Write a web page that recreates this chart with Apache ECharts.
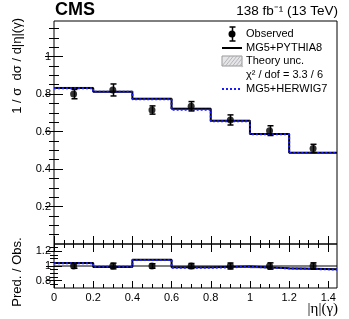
<!DOCTYPE html>
<html><head><meta charset="utf-8">
<script src="https://cdn.jsdelivr.net/npm/echarts@6/dist/echarts.min.js"></script>
<style>html,body{margin:0;padding:0;background:#fff}#c{width:349px;height:319px}</style>
</head><body><div id="c"></div>
<script>
// ---- data ----
const binEdges   = [0, 0.2, 0.4, 0.6, 0.8, 1.0, 1.2, 1.4442];
const observed   = [0.800, 0.822, 0.715, 0.735, 0.662, 0.605, 0.510];
const observedErr= [0.025, 0.032, 0.022, 0.025, 0.027, 0.026, 0.022];
const pythia8    = [0.833, 0.812, 0.775, 0.722, 0.658, 0.587, 0.487];
const herwig7    = [0.831, 0.813, 0.773, 0.717, 0.655, 0.585, 0.485];
const theoryUnc  = [0.006, 0.006, 0.006, 0.006, 0.005, 0.005, 0.005];
const xTicks     = [0, 0.2, 0.4, 0.6, 0.8, 1, 1.2, 1.4];
const yTicks     = [0.2, 0.4, 0.6, 0.8, 1];
const ratioTicks = [0.8, 1, 1.2];
const legendTexts = ['Observed', 'MG5+PYTHIA8', 'Theory unc.', 'χ² / dof = 3.3 / 6', 'MG5+HERWIG7'];

// ---- derived ----
const centers = observed.map((_, i) => (binEdges[i] + binEdges[i + 1]) / 2);
function stepData(vals) {
  const d = [];
  vals.forEach((v, i) => { d.push([binEdges[i], v]); d.push([binEdges[i + 1], v]); });
  return d;
}
const pythRatio = pythia8.map((v, i) => v / observed[i]);
const herwRatio = herwig7.map((v, i) => v / observed[i]);
const uncRatio = theoryUnc.map((v, i) => v / observed[i]);
const obsRatio = observed.map(() => 1);
const obsRatioErr = observedErr.map((e, i) => e / observed[i]);

function minorVals(lo, hi, step, majors) {
  const out = [];
  for (let k = Math.round(lo / step); k * step <= hi + 1e-9; k++) {
    const v = +(k * step).toFixed(4);
    if (v < lo - 1e-9) continue;
    if (!majors.some(m => Math.abs(m - v) < 1e-6)) out.push(v);
  }
  return out;
}
const XMIN = 0, XMAX = 1.4442, YMAX = 1.19, RMIN = 0.7, RMAX = 1.3;
const FONT = 'Liberation Sans';

function xAx(grid, pos, vals, len, showLabel) {
  return {
    type: 'value', gridIndex: grid, position: pos, min: XMIN, max: XMAX,
    axisLine: { show: false }, splitLine: { show: false },
    axisTick: { show: true, inside: true, length: len, customValues: vals, lineStyle: { color: '#000', width: 1 } },
    axisLabel: { show: showLabel, customValues: vals, color: '#000', fontFamily: FONT, fontSize: 11, margin: 4,
                 formatter: v => String(+v.toFixed(2)) }
  };
}
function yAx(grid, pos, min, max, vals, len, showLabel) {
  return {
    type: 'value', gridIndex: grid, position: pos, min: min, max: max,
    axisLine: { show: false }, splitLine: { show: false },
    axisTick: { show: true, inside: true, length: len, customValues: vals, lineStyle: { color: '#000', width: 1 } },
    axisLabel: { show: showLabel, customValues: vals, color: '#000', fontFamily: FONT, fontSize: 11, margin: 3,
                 formatter: v => String(+v.toFixed(2)) }
  };
}
const xMinor = minorVals(0, 1.44, 0.05, xTicks);
const yMinor = minorVals(0.05, 1.15, 0.05, yTicks);
const rMinor = minorVals(0.75, 1.25, 0.05, ratioTicks);

const xAxes = [
  xAx(0, 'bottom', xTicks, 8, false), xAx(0, 'bottom', xMinor, 4, false),
  xAx(0, 'top', xTicks, 8, false), xAx(0, 'top', xMinor, 4, false),
  xAx(1, 'bottom', xTicks, 7, true), xAx(1, 'bottom', xMinor, 4, false),
  xAx(1, 'top', xTicks, 7, false), xAx(1, 'top', xMinor, 4, false)
];
const yAxes = [
  yAx(0, 'left', 0, YMAX, yTicks, 9, true), yAx(0, 'left', 0, YMAX, yMinor, 5, false),
  yAx(0, 'right', 0, YMAX, yTicks, 9, false), yAx(0, 'right', 0, YMAX, yMinor, 5, false),
  yAx(1, 'left', RMIN, RMAX, ratioTicks, 8, true), yAx(1, 'left', RMIN, RMAX, rMinor, 4, false),
  yAx(1, 'right', RMIN, RMAX, ratioTicks, 8, false), yAx(1, 'right', RMIN, RMAX, rMinor, 4, false)
];

function bandSeries(xi, yi, vals, unc) {
  return {
    type: 'custom', xAxisIndex: xi, yAxisIndex: yi, z: 2,
    data: vals.map((v, i) => [binEdges[i], binEdges[i + 1], v - unc[i], v + unc[i]]),
    renderItem: (params, api) => {
      const p1 = api.coord([api.value(0), api.value(3)]);
      const p2 = api.coord([api.value(1), api.value(2)]);
      return { type: 'rect', shape: { x: p1[0], y: p1[1], width: p2[0] - p1[0], height: Math.max(1, p2[1] - p1[1]) },
               style: { fill: 'rgba(160,160,170,0.45)' } };
    }
  };
}
function errSeries(xi, yi, xs, vals, errs) {
  return {
    type: 'custom', xAxisIndex: xi, yAxisIndex: yi, z: 6,
    data: vals.map((v, i) => [xs[i], v - errs[i], v + errs[i]]),
    renderItem: (params, api) => {
      const lo = api.coord([api.value(0), api.value(1)]);
      const hi = api.coord([api.value(0), api.value(2)]);
      const x = Math.round(lo[0]) + 0.5;
      return { type: 'group', children: [
        { type: 'line', shape: { x1: x, y1: lo[1], x2: x, y2: hi[1] }, style: { stroke: '#000', lineWidth: 1.5 } },
        { type: 'line', shape: { x1: x - 3, y1: lo[1], x2: x + 3, y2: lo[1] }, style: { stroke: '#000', lineWidth: 1.5 } },
        { type: 'line', shape: { x1: x - 3, y1: hi[1], x2: x + 3, y2: hi[1] }, style: { stroke: '#000', lineWidth: 1.5 } }
      ] };
    }
  };
}
function stepSeries(xi, yi, vals, color, type, z) {
  return { type: 'line', xAxisIndex: xi, yAxisIndex: yi, data: stepData(vals), symbol: 'none', z: z,
           lineStyle: { color: color, width: 2, type: type }, animation: false };
}
function pointSeries(xi, yi, xs, vals) {
  return { type: 'scatter', xAxisIndex: xi, yAxisIndex: yi, z: 7, symbol: 'circle', symbolSize: 7,
           itemStyle: { color: '#000' }, data: vals.map((v, i) => [xs[i], v]) };
}

const series = [
  bandSeries(0, 0, pythia8, theoryUnc),
  stepSeries(0, 0, pythia8, '#000', 'solid', 3),
  stepSeries(0, 0, herwig7, '#1a1aff', [2, 2], 4),
  errSeries(0, 0, centers, observed, observedErr),
  pointSeries(0, 0, centers, observed),
  { type: 'line', xAxisIndex: 4, yAxisIndex: 4, data: [[XMIN, 1], [XMAX, 1]], symbol: 'none', z: 1,
    lineStyle: { color: '#000', width: 1 } },
  bandSeries(4, 4, pythRatio, uncRatio),
  stepSeries(4, 4, pythRatio, '#000', 'solid', 3),
  stepSeries(4, 4, herwRatio, '#1a1aff', [2, 2], 4),
  errSeries(4, 4, centers, obsRatio, obsRatioErr),
  pointSeries(4, 4, centers, obsRatio)
];

// legend drawn as graphics
const LX = 222, LX2 = 242, TX = 246;
const ly = [34, 48, 61, 75, 89];
const txt = (x, y, s, extra) => Object.assign({ type: 'text', x: x, y: y, z: 20,
  style: { text: s, fill: '#000', font: '11px ' + FONT, textAlign: 'left', textVerticalAlign: 'middle' } }, extra || {});
const graphic = [
  { type: 'text', x: 55, y: 10, style: { text: 'CMS', fill: '#000', font: 'bold 18px ' + FONT, textAlign: 'left', textVerticalAlign: 'middle' } },
  { type: 'text', x: 338, y: 11, style: { text: '138 fb⁻¹ (13 TeV)', fill: '#000', font: '13.5px ' + FONT, textAlign: 'right', textVerticalAlign: 'middle' } },
  { type: 'text', x: 338, y: 309, style: { text: '|η|(γ)', fill: '#000', font: '15px Liberation Serif', textAlign: 'right', textVerticalAlign: 'middle' } },
  { type: 'text', x: 17, y: 18, rotation: Math.PI / 2, style: { text: '1 / σ  dσ / d|η|(γ)', fill: '#000', font: '13px ' + FONT, textAlign: 'right', textVerticalAlign: 'middle' } },
  { type: 'text', x: 17, y: 272, rotation: Math.PI / 2, style: { text: 'Pred. / Obs.', fill: '#000', font: '13px ' + FONT, textAlign: 'center', textVerticalAlign: 'middle' } },
  // legend: observed
  { type: 'circle', shape: { cx: 232, cy: ly[0], r: 3.5 }, style: { fill: '#000' }, z: 20 },
  { type: 'line', shape: { x1: 232.5, y1: ly[0] - 7, x2: 232.5, y2: ly[0] + 7 }, style: { stroke: '#000', lineWidth: 1.5 }, z: 20 },
  { type: 'line', shape: { x1: 229.5, y1: ly[0] - 7, x2: 235.5, y2: ly[0] - 7 }, style: { stroke: '#000', lineWidth: 1.5 }, z: 20 },
  { type: 'line', shape: { x1: 229.5, y1: ly[0] + 7, x2: 235.5, y2: ly[0] + 7 }, style: { stroke: '#000', lineWidth: 1.5 }, z: 20 },
  txt(TX, ly[0], legendTexts[0]),
  { type: 'line', shape: { x1: LX, y1: ly[1], x2: LX2, y2: ly[1] }, style: { stroke: '#000', lineWidth: 2 }, z: 20 },
  txt(TX, ly[1], legendTexts[1]),
  { type: 'rect', shape: { x: LX, y: ly[2] - 5, width: LX2 - LX, height: 10 }, style: { fill: '#e6e6ea', stroke: '#999', lineWidth: 1 }, z: 20 },
  txt(TX, ly[2], legendTexts[2]),
  txt(TX, ly[3], legendTexts[3]),
  { type: 'line', shape: { x1: LX, y1: ly[4], x2: LX2, y2: ly[4] }, style: { stroke: '#1a1aff', lineWidth: 2, lineDash: [2, 2] }, z: 20 },
  txt(TX, ly[4], legendTexts[4])
];
// hatch lines in legend box
for (let k = 0; k < 7; k++) {
  const x0 = LX + k * 3.5;
  graphic.push({ type: 'line', z: 21, shape: { x1: x0, y1: ly[2] + 5, x2: Math.min(x0 + 8, LX2), y2: ly[2] + 5 - (Math.min(x0 + 8, LX2) - x0) * 10 / 8 },
                 style: { stroke: '#aaa', lineWidth: 0.8 } });
}

const chart = echarts.init(document.getElementById('c'), null, { renderer: 'canvas' });
chart.setOption({
  animation: false,
  backgroundColor: '#fff',
  grid: [
    { left: 54, right: 12, top: 21, height: 223, show: true, borderColor: '#000', borderWidth: 1, backgroundColor: 'transparent' },
    { left: 54, right: 12, top: 244, height: 44, show: true, borderColor: '#000', borderWidth: 1, backgroundColor: 'transparent' }
  ],
  xAxis: xAxes,
  yAxis: yAxes,
  series: series,
  graphic: graphic
});
</script></body></html>
